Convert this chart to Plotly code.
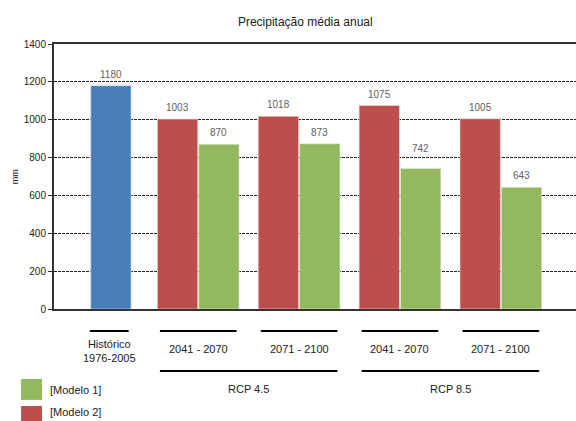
import plotly.graph_objects as go

# ---- data ----
hist_label = "Histórico<br>1976-2005"
hist_value = [1180]
periods = ["2041 - 2070", "2071 - 2100", "2041 - 2070", "2071 - 2100"]
scenarios = ["RCP 4.5", "RCP 4.5", "RCP 8.5", "RCP 8.5"]
modelo2 = [1003, 1018, 1075, 1005]
modelo1 = [870, 873, 742, 643]
y_ticks = [0, 200, 400, 600, 800, 1000, 1200, 1400]

# category keys (unique)
hist_key = "Histórico"
cat_keys = [s + " | " + p for s, p in zip(scenarios, periods)]
all_keys = [hist_key] + cat_keys

BLUE = "#4A7EBB"
RED = "#BC4E4B"
GREEN = "#93B860"
FONT = "Liberation Sans Narrow, Liberation Sans, Arial, sans-serif"
LABEL_GRAY = "#5f5f5f"

HIST_OFF = -0.066
RED_OFF = -0.405
GREEN_OFF = 0.005
BAR_W = 0.4

PLOT_H = 421 - 44 - 112
Y_MAX = 1400
PX_PER_UNIT = PLOT_H / Y_MAX

fig = go.Figure()

fig.add_trace(go.Bar(
    x=[hist_key], y=hist_value, name="Histórico",
    marker=dict(color=BLUE, line=dict(color="#dfe6f0", width=0.6)),
    width=BAR_W, offset=HIST_OFF, showlegend=False,
))
fig.add_trace(go.Bar(
    x=cat_keys, y=modelo2, name="[Modelo 2]",
    marker=dict(color=RED, line=dict(color="#f0dcdc", width=0.6)),
    width=BAR_W, offset=RED_OFF, showlegend=False,
))
fig.add_trace(go.Bar(
    x=cat_keys, y=modelo1, name="[Modelo 1]",
    marker=dict(color=GREEN, line=dict(color="#e6efd9", width=0.6)),
    width=BAR_W, offset=GREEN_OFF, showlegend=False,
))

shapes = []
annotations = []

# value labels above bars (nudged above a gridline when they would sit on it)
def value_label(xpos, val):
    shift = 11.5
    label_val = val + shift / PX_PER_UNIT
    nearest = min(y_ticks, key=lambda t: abs(t - label_val))
    if abs(nearest - label_val) * PX_PER_UNIT < 6.5:
        shift = (nearest - val) * PX_PER_UNIT + 9.5
    annotations.append(dict(xref="x", yref="y", x=xpos, y=val, text=str(val),
                            yshift=shift, showarrow=False,
                            font=dict(size=10, color=LABEL_GRAY, family=FONT),
                            xanchor="center", yanchor="middle"))

for v in hist_value:
    value_label(0 + HIST_OFF + BAR_W / 2, v)
for i, v in enumerate(modelo2, start=1):
    value_label(i + RED_OFF + BAR_W / 2, v)
for i, v in enumerate(modelo1, start=1):
    value_label(i + GREEN_OFF + BAR_W / 2, v)

# historic label + bracket
shapes.append(dict(type="line", xref="x", yref="paper", x0=-0.075, x1=0.31,
                   y0=-0.083, y1=-0.083, line=dict(color="black", width=2)))
annotations.append(dict(xref="x", yref="paper", x=0.12, y=-0.158, text=hist_label,
                        showarrow=False, font=dict(size=11, color="#222", family=FONT),
                        xanchor="center", yanchor="middle"))

# period labels + brackets
for i, p in enumerate(periods, start=1):
    shapes.append(dict(type="line", xref="x", yref="paper", x0=i - 0.38, x1=i + 0.38,
                       y0=-0.083, y1=-0.083, line=dict(color="black", width=2)))
    annotations.append(dict(xref="x", yref="paper", x=i, y=-0.151, text=p,
                            showarrow=False, font=dict(size=11, color="#222", family=FONT),
                            xanchor="center", yanchor="middle"))

# scenario labels + brackets
uniq = []
for s in scenarios:
    if s not in uniq:
        uniq.append(s)
for s in uniq:
    idx = [i + 1 for i, v in enumerate(scenarios) if v == s]
    lo, hi = min(idx), max(idx)
    shapes.append(dict(type="line", xref="x", yref="paper", x0=lo - 0.38, x1=hi + 0.38,
                       y0=-0.234, y1=-0.234, line=dict(color="black", width=2)))
    annotations.append(dict(xref="x", yref="paper", x=(lo + hi) / 2, y=-0.302, text=s,
                            showarrow=False, font=dict(size=11, color="#222", family=FONT),
                            xanchor="center", yanchor="middle"))

# legend (manual)
legend_items = [("[Modelo 1]", GREEN, -0.264, -0.304), ("[Modelo 2]", RED, -0.366, -0.390)]
for name, col, ytop, ytext in legend_items:
    shapes.append(dict(type="rect", xref="paper", yref="paper", x0=-0.063, x1=-0.023,
                       y0=ytop, y1=ytop - 0.079, fillcolor=col, line=dict(width=0)))
    annotations.append(dict(xref="paper", yref="paper", x=-0.011, y=ytext,
                            text=name, showarrow=False,
                            font=dict(size=11, color="#222", family=FONT),
                            xanchor="left", yanchor="middle"))

# y-axis unit label
annotations.append(dict(xref="paper", yref="paper", x=-0.075, y=0.5, text="mm",
                        textangle=-90, showarrow=False,
                        font=dict(size=9, color="#222", family=FONT),
                        xanchor="center", yanchor="middle"))

fig.update_layout(
    width=576, height=421,
    margin=dict(l=54, r=0, t=44, b=112),
    paper_bgcolor="white", plot_bgcolor="white",
    barmode="overlay",
    title=dict(text="Precipitação média anual", x=0.53, xanchor="center",
               y=1 - 22 / 421, yanchor="middle",
               font=dict(size=12, color="#222", family=FONT)),
    font=dict(family=FONT),
    shapes=shapes, annotations=annotations,
    xaxis=dict(type="category", categoryorder="array", categoryarray=all_keys,
               range=[-0.43, 4.745], showticklabels=False, ticks="",
               showgrid=False, showline=True, linecolor="#333", linewidth=2,
               mirror=True, zeroline=False, fixedrange=True),
    yaxis=dict(range=[0, Y_MAX], tickvals=y_ticks, showgrid=True,
               gridcolor="#222", gridwidth=1.2, griddash="3px,1px",
               showline=True, linecolor="#333", linewidth=2, zeroline=False,
               ticks="outside", ticklen=4, tickcolor="#333", tickwidth=1,
               tickfont=dict(size=10, color="#222", family=FONT)),
)

fig.write_html("out.html", config={"displayModeBar": False},
               post_script="document.body.style.margin='0';document.body.style.overflow='hidden';")
